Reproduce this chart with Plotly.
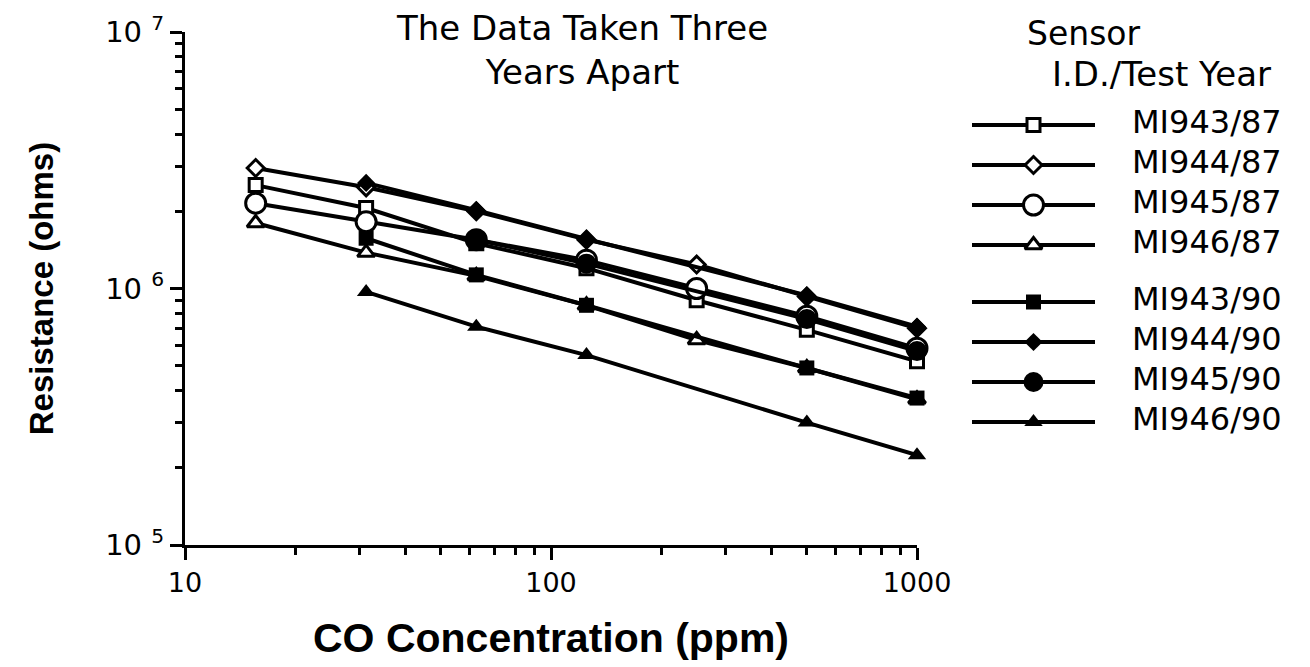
import plotly.graph_objects as go

# ---------------- data ----------------
conc = [15.6, 31.25, 62.5, 125, 250, 500, 1000]

MI943_87 = [2.53e6, 2.06e6, 1.50e6, 1.20e6, 0.90e6, 0.69e6, 0.52e6]
MI944_87 = [2.95e6, 2.48e6, 2.00e6, 1.55e6, 1.24e6, 0.93e6, 0.70e6]
MI945_87 = [2.15e6, 1.82e6, 1.55e6, 1.29e6, 1.00e6, 0.78e6, 0.585e6]
MI946_87 = [1.80e6, 1.38e6, 1.12e6, 0.86e6, 0.63e6, 0.49e6, 0.37e6]

MI943_90 = [None, 1.57e6, 1.13e6, 0.86e6, None, 0.49e6, 0.374e6]
MI944_90 = [None, 2.58e6, 2.02e6, 1.56e6, None, 0.94e6, 0.71e6]
MI945_90 = [None, None, 1.55e6, 1.25e6, None, 0.76e6, 0.57e6]
MI946_90 = [None, 0.97e6, 0.71e6, 0.55e6, None, 0.30e6, 0.224e6]

series_names = ["MI943/87", "MI944/87", "MI945/87", "MI946/87",
                "MI943/90", "MI944/90", "MI945/90", "MI946/90"]
series_values = [MI943_87, MI944_87, MI945_87, MI946_87,
                 MI943_90, MI944_90, MI945_90, MI946_90]

x_tick_values = [10, 100, 1000]
y_tick_values = [1e5, 1e6, 1e7]
y_tick_exponents = ["5", "6", "7"]

# ---------------- styles ----------------
symbols = ["square", "diamond", "circle", "triangle-up",
           "square", "diamond", "circle", "triangle-up"]
sizes = [13, 13, 20, 15, 15, 14, 20, 16]
filled = [False, False, False, False, True, True, True, True]

W, H = 1310, 667
X0, X1 = 185, 917      # plot area pixel extents
Y0, Y1 = 32, 545

fig = go.Figure()

for name, vals, sym, sz, fl in zip(series_names, series_values, symbols, sizes, filled):
    fig.add_trace(go.Scatter(
        x=conc, y=vals, mode="lines+markers", name=name,
        connectgaps=True,
        line=dict(color="black", width=4),
        marker=dict(symbol=sym, size=sz,
                    color="black" if fl else "white",
                    line=dict(color="black", width=0 if fl else 3)),
        showlegend=False, xaxis="x", yaxis="y", cliponaxis=False,
    ))

# ---------------- manual legend (own axes) ----------------
LX0, LX1 = 972, 1305
LY_TOP, LY_BOT = 85, 465
for i, (name, sym, sz, fl) in enumerate(zip(series_names, symbols, sizes, filled)):
    row = i + (0.425 if i >= 4 else 0)
    fig.add_trace(go.Scatter(
        x=[0, 61.5, 123], y=[row, row, row], mode="lines",
        line=dict(color="black", width=4), showlegend=False,
        xaxis="x2", yaxis="y2", hoverinfo="skip", cliponaxis=False))
    fig.add_trace(go.Scatter(
        x=[61.5], y=[row], mode="markers",
        marker=dict(symbol=sym, size=sz,
                    color="black" if fl else "white",
                    line=dict(color="black", width=0 if fl else 3)),
        showlegend=False, xaxis="x2", yaxis="y2", hoverinfo="skip", cliponaxis=False))
    fig.add_trace(go.Scatter(
        x=[160], y=[row], mode="text", text=[name], textposition="middle right",
        textfont=dict(family="DejaVu Sans", size=32, color="black"),
        showlegend=False, xaxis="x2", yaxis="y2", hoverinfo="skip", cliponaxis=False))

axis_font = dict(family="DejaVu Sans", size=27, color="black")
y_tick_text = ["10 <sup>%s</sup>" % e for e in y_tick_exponents]

fig.update_layout(
    width=W, height=H,
    margin=dict(l=0, r=0, t=0, b=0),
    paper_bgcolor="white", plot_bgcolor="white",
    showlegend=False,
    xaxis=dict(
        type="log", range=[1, 3],
        domain=[X0 / W, X1 / W], anchor="y",
        tickmode="array", tickvals=x_tick_values,
        ticktext=[str(v) for v in x_tick_values],
        ticks="outside", ticklen=12, tickwidth=3, tickcolor="black",
        minor=dict(ticks="outside", ticklen=7, tickwidth=2.5, tickcolor="black",
                   tickvals=[20, 30, 40, 50, 60, 70, 80, 90,
                             200, 300, 400, 500, 600, 700, 800, 900]),
        showline=True, linecolor="black", linewidth=3,
        showgrid=False, zeroline=False,
        tickfont=axis_font, automargin=False,
        title=dict(text="<b>CO Concentration (ppm)</b>",
                   font=dict(family="Liberation Sans", size=41, color="black"),
                   standoff=26),
    ),
    yaxis=dict(
        type="log", range=[5, 7],
        domain=[(H - Y1) / H, (H - Y0) / H], anchor="x",
        tickmode="array", tickvals=y_tick_values, ticktext=y_tick_text,
        ticks="outside", ticklen=12, tickwidth=3, tickcolor="black",
        minor=dict(ticks="outside", ticklen=7, tickwidth=2.5, tickcolor="black",
                   tickvals=[2e5, 3e5, 4e5, 5e5, 6e5, 7e5, 8e5, 9e5,
                             2e6, 3e6, 4e6, 5e6, 6e6, 7e6, 8e6, 9e6]),
        showline=True, linecolor="black", linewidth=3,
        showgrid=False, zeroline=False,
        tickfont=dict(family="DejaVu Sans", size=29, color="black"),
        automargin=False,
        title=dict(text="<b>Resistance (ohms)</b>",
                   font=dict(family="Liberation Sans", size=33, color="black"),
                   standoff=42),
    ),
    xaxis2=dict(range=[0, LX1 - LX0], domain=[LX0 / W, LX1 / W], anchor="y2",
                visible=False, fixedrange=True),
    yaxis2=dict(range=[(LY_BOT - 125) / 40, (LY_TOP - 125) / 40],
                domain=[(H - LY_BOT) / H, (H - LY_TOP) / H], anchor="x2",
                visible=False, fixedrange=True),
    annotations=[
        dict(text="The Data Taken Three<br>Years Apart", xref="paper", yref="paper",
             x=582 / W, y=1 - 50 / H, xanchor="center", yanchor="middle",
             showarrow=False, align="center",
             font=dict(family="DejaVu Sans", size=34, color="black")),
        dict(text="Sensor", xref="paper", yref="paper",
             x=1025 / W, y=1 - 33 / H, xanchor="left", yanchor="middle",
             showarrow=False, font=dict(family="DejaVu Sans", size=33, color="black")),
        dict(text="I.D./Test Year", xref="paper", yref="paper",
             x=1050 / W, y=1 - 74 / H, xanchor="left", yanchor="middle",
             showarrow=False, font=dict(family="DejaVu Sans", size=34, color="black")),
    ],
)

fig.write_html("out.html")
